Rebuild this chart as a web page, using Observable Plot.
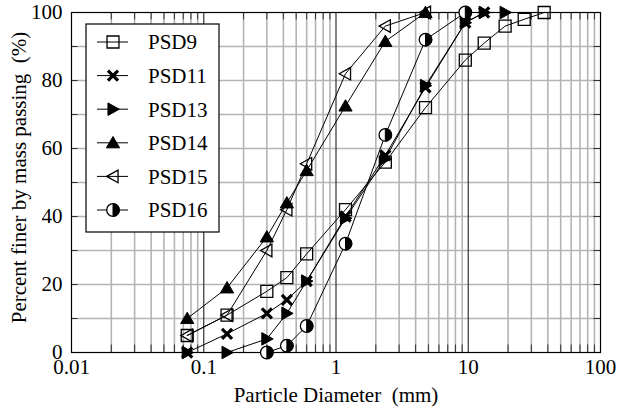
<!DOCTYPE html>
<html><head><meta charset="utf-8">
<script src="https://cdn.jsdelivr.net/npm/d3@7"></script>
<script src="https://cdn.jsdelivr.net/npm/@observablehq/plot@0.6"></script>
<style>
body{margin:0;background:#fff}
#chart svg, #chart svg text{font-family:"Liberation Serif","Times New Roman",serif !important}
</style>
</head><body><div id="chart"></div>
<script>
// ---- data (sieve size in mm, percent passing) ----
const psd9Size  = [0.075,0.15,0.3,0.425,0.6,1.18,2.36,4.75,9.5,13.2,19,26.5,37.5];
const psd9Pass  = [5,11,18,22,29,42,56,72,86,91,96,98,100];
const psd11Size = [0.075,0.15,0.3,0.425,0.6,1.18,2.36,4.75,9.5,13.2];
const psd11Pass = [0,5.5,11.5,15.5,21,40,58,78,97,100];
const psd13Size = [0.075,0.15,0.3,0.425,0.6,1.18,2.36,4.75,9.5,13.2,19];
const psd13Pass = [0,0,4,11.5,21,39.5,57,78.5,97,100,100];
const psd14Size = [0.075,0.15,0.3,0.425,0.6,1.18,2.36,4.75];
const psd14Pass = [10,19,34,44,53.5,72.5,91.5,100];
const psd15Size = [0.075,0.15,0.3,0.425,0.6,1.18,2.36,4.75];
const psd15Pass = [5,11,30,42,55.5,82,96,100];
const psd16Size = [0.3,0.425,0.6,1.18,2.36,4.75,9.5];
const psd16Pass = [0,2,7.8,32,64,92,100];
const seriesNames = ["PSD9","PSD11","PSD13","PSD14","PSD15","PSD16"];
const xTicks = [0.01,0.1,1,10,100];
const yTicks = [0,20,40,60,80,100];

const FONT = '"Liberation Serif","Times New Roman",serif';
const FS = 21;

// ---- symbols ----
const R = 6.3;
const rad = size => Math.sqrt(size/Math.PI);
const sqSym = {draw(c,size){const s=rad(size)*0.95;c.rect(-s,-s,2*s,2*s);}};
const xSym  = {draw(c,size){const s=rad(size)*0.8;c.moveTo(-s,-s);c.lineTo(s,s);c.moveTo(s,-s);c.lineTo(-s,s);}};
const rTri  = {draw(c,size){const s=rad(size);c.moveTo(-s*0.8,-s);c.lineTo(s,0);c.lineTo(-s*0.8,s);c.closePath();}};
const uTri  = {draw(c,size){const s=rad(size);c.moveTo(0,-s);c.lineTo(s*1.05,s*0.8);c.lineTo(-s*1.05,s*0.8);c.closePath();}};
const lTri  = {draw(c,size){const s=rad(size);c.moveTo(-s,0);c.lineTo(s*0.8,-s);c.lineTo(s*0.8,s);c.closePath();}};
const circ  = {draw(c,size){const s=rad(size);c.moveTo(s,0);c.arc(0,0,s,0,2*Math.PI);}};
const halfR = {draw(c,size){const s=rad(size);c.moveTo(0,-s);c.arc(0,0,s,-Math.PI/2,Math.PI/2);c.closePath();}};

const mk = (sizes, pass) => sizes.map((d,i)=>({d, p: pass[i]}));
const s9=mk(psd9Size,psd9Pass), s11=mk(psd11Size,psd11Pass), s13=mk(psd13Size,psd13Pass),
      s14=mk(psd14Size,psd14Pass), s15=mk(psd15Size,psd15Pass), s16=mk(psd16Size,psd16Pass);

const minor = [];
for (const dec of [0.01,0.1,1,10]) for (let k=2;k<=9;k++) minor.push(+(k*dec).toPrecision(3));
const yGrid = d3.range(10,100,10);

const line = data => Plot.line(data,{x:"d",y:"p",stroke:"#000",strokeWidth:1});
const dotOpts = (sym, extra) => ({x:"d",y:"p",symbol:sym,r:R,...extra});

const tickLenX = 2.2; // percent units
const tickFacX = Math.pow(10, 0.05);

const plot = Plot.plot({
  width: 618, height: 415,
  marginTop: 12, marginRight: 18, marginBottom: 63, marginLeft: 71,
  style: {fontFamily: FONT, fontSize: FS + "px", background: "#fff", color: "#000"},
  x: {type: "log", domain: [0.01, 100]},
  y: {domain: [0, 100]},
  marks: [
    Plot.ruleX(minor, {stroke:"#b4b4b4", strokeWidth:1.6}),
    Plot.ruleY(yGrid, {stroke:"#b4b4b4", strokeWidth:1.6}),
    Plot.ruleX([0.1,1,10], {stroke:"#333", strokeWidth:1.2}),
    // inner ticks
    Plot.ruleX(minor, {y1:0, y2:tickLenX, stroke:"#333", strokeWidth:1}),
    Plot.ruleX(minor, {y1:100-tickLenX, y2:100, stroke:"#333", strokeWidth:1}),
    Plot.ruleY(yGrid, {x1:0.01, x2:0.01*tickFacX, stroke:"#333", strokeWidth:1}),
    Plot.ruleY(yGrid, {x1:100/tickFacX, x2:100, stroke:"#333", strokeWidth:1}),
    Plot.frame({stroke:"#000", strokeWidth:1.2}),
    Plot.axisX(xTicks, {tickSize:0, tickPadding:7, tickFormat: d => String(d), fontSize:FS, fontFamily:FONT, label:null}),
    Plot.axisY(yTicks, {tickSize:0, tickPadding:9, fontSize:FS, fontFamily:FONT, label:null}),
    Plot.text(["Particle Diameter  (mm)"], {frameAnchor:"bottom", dy:49, fontSize:FS, fontFamily:FONT, text:d=>d}),
    Plot.text(["Percent finer by mass passing  (%)"], {frameAnchor:"left", dx:-52, dy:-5, rotate:-90, textAnchor:"middle", fontSize:FS, fontFamily:FONT, text:d=>d}),
    line(s9), line(s11), line(s13), line(s14), line(s15), line(s16),
    Plot.dot(s9,  dotOpts(sqSym, {fill:"none", stroke:"#000", strokeWidth:1.3})),
    Plot.dot(s11, dotOpts(xSym,  {fill:"none", stroke:"#000", strokeWidth:3.2})),
    Plot.dot(s13, dotOpts(rTri,  {fill:"#000", stroke:"#000", strokeWidth:1})),
    Plot.dot(s14, dotOpts(uTri,  {fill:"#000", stroke:"#000", strokeWidth:1})),
    Plot.dot(s15, dotOpts(lTri,  {fill:"none", stroke:"#000", strokeWidth:1.3})),
    Plot.dot(s16, dotOpts(circ,  {fill:"#fff", stroke:"#000", strokeWidth:1.3})),
    Plot.dot(s16, dotOpts(halfR, {fill:"#000", stroke:"#000", strokeWidth:1}))
  ]
});
document.getElementById("chart").appendChild(plot);

// ---- legend (inside plot area, top-left) ----
const svg = d3.select(plot);
const lg = svg.append("g").attr("transform","translate(86,24)");
lg.append("rect").attr("width",133).attr("height",208).attr("fill","#fff").attr("stroke","#000").attr("stroke-width",1.2);
const legendSyms = [
  [{sym:sqSym, fill:"none", sw:1.3}],
  [{sym:xSym, fill:"none", sw:3.2}],
  [{sym:rTri, fill:"#000", sw:1}],
  [{sym:uTri, fill:"#000", sw:1}],
  [{sym:lTri, fill:"none", sw:1.3}],
  [{sym:circ, fill:"#fff", sw:1.3},{sym:halfR, fill:"#000", sw:1}]
];
const size = Math.PI*R*R;
seriesNames.forEach((name,i)=>{
  const cy = 18 + i*33.6;
  const g = lg.append("g").attr("transform",`translate(0,${cy})`);
  g.append("line").attr("x1",11).attr("x2",42).attr("y1",0).attr("y2",0).attr("stroke","#000");
  legendSyms[i].forEach(s=>{
    g.append("path").attr("transform","translate(27,0)").attr("d", d3.symbol(s.sym, size)())
     .attr("fill", s.fill).attr("stroke","#000").attr("stroke-width", s.sw);
  });
  g.append("text").attr("x",62).attr("y",0).attr("dy","0.35em").attr("text-anchor","start")
   .attr("font-size",FS).attr("font-family",FONT).text(name);
});
</script>
</body></html>
